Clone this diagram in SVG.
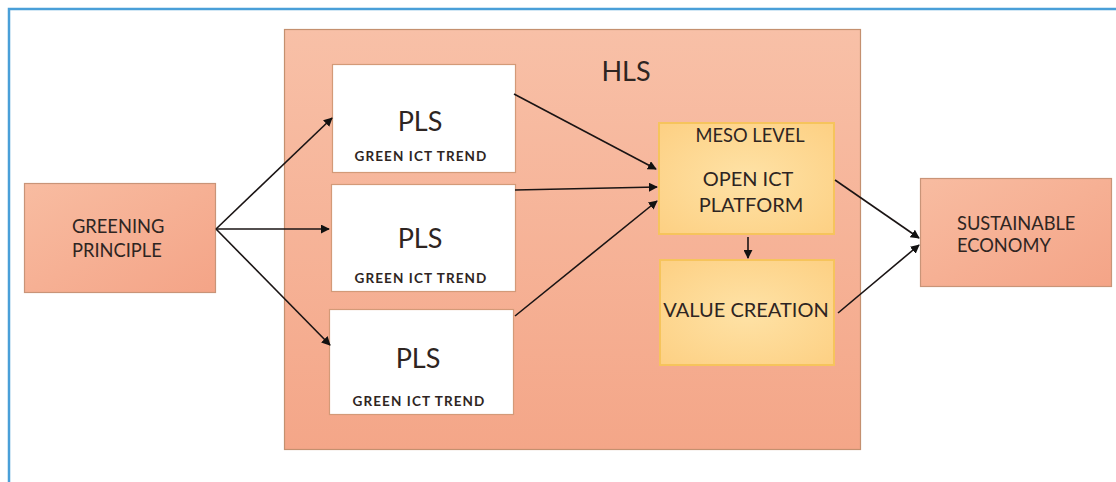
<svg xmlns="http://www.w3.org/2000/svg" width="1116" height="482" viewBox="0 0 1116 482">
  <defs>
    <linearGradient id="salmon" x1="0" y1="0" x2="0" y2="1">
      <stop offset="0" stop-color="#f8c0a7"/>
      <stop offset="1" stop-color="#f4a688"/>
    </linearGradient>
    <linearGradient id="salmonBox" x1="0" y1="0" x2="1" y2="1">
      <stop offset="0" stop-color="#f8bca1"/>
      <stop offset="1" stop-color="#f4a487"/>
    </linearGradient>
    <radialGradient id="gold" cx="0.5" cy="0.5" r="0.7">
      <stop offset="0" stop-color="#fee2a6"/>
      <stop offset="1" stop-color="#fdd083"/>
    </radialGradient>
    <marker id="arrow" viewBox="0 0 10 10" refX="9" refY="5" markerWidth="9" markerHeight="9" markerUnits="userSpaceOnUse" orient="auto">
      <path d="M0,0 L10,5 L0,10 z" fill="#111"/>
    </marker>
  </defs>
  <style>
    .frame { fill: none; stroke: #4a9fd8; stroke-width: 2.5; }
    .outer { fill: url(#salmonBox); stroke: #c99478; stroke-width: 1.2; }
    .hls { fill: url(#salmon); stroke: #c4906f; stroke-width: 1.2; }
    .pls { fill: #ffffff; stroke: #d39a78; stroke-width: 1.2; }
    .meso { fill: url(#gold); stroke: #f6c45c; stroke-width: 2; }
    text { font-family: Lato, "Open Sans", "Liberation Sans", sans-serif; fill: #2e2522; }
    .big { font-size: 27px; }
    .mid { font-size: 18.3px; }
    .lg { font-size: 20px; }
    .small { font-size: 13.5px; font-weight: bold; letter-spacing: 1.1px; }
    .c { text-anchor: middle; }
    .conn line { stroke: #1a1414; stroke-width: 1.6; marker-end: url(#arrow); }
  </style>

  <rect class="frame" x="9" y="9" width="1120" height="490"/>

  <g id="hls">
    <rect class="hls" x="284.5" y="29.5" width="576" height="420"/>
    <text class="big c" x="626" y="81">HLS</text>
  </g>

  <g id="greening">
    <rect class="outer" x="24.5" y="183.5" width="191" height="109"/>
    <text class="mid" x="72" y="233">GREENING</text>
    <text class="mid" x="72" y="257">PRINCIPLE</text>
  </g>

  <g id="pls1">
    <rect class="pls" x="332.5" y="64.5" width="183" height="108"/>
    <text class="big c" x="420" y="131">PLS</text>
    <text class="small c" x="421" y="161">GREEN ICT TREND</text>
  </g>

  <g id="pls2">
    <rect class="pls" x="331.5" y="184.5" width="184" height="107"/>
    <text class="big c" x="420" y="248">PLS</text>
    <text class="small c" x="421" y="283">GREEN ICT TREND</text>
  </g>

  <g id="pls3">
    <rect class="pls" x="329.5" y="309.5" width="184" height="105"/>
    <text class="big c" x="418" y="368">PLS</text>
    <text class="small c" x="419" y="406">GREEN ICT TREND</text>
  </g>

  <g id="meso">
    <rect class="meso" x="659" y="123" width="175" height="111"/>
    <text class="mid c" x="750" y="142">MESO LEVEL</text>
    <text class="lg c" x="748" y="186">OPEN ICT</text>
    <text class="lg c" x="751" y="212">PLATFORM</text>
  </g>

  <g id="value">
    <rect class="meso" x="660" y="260" width="174" height="105"/>
    <text class="lg c" x="746" y="317">VALUE CREATION</text>
  </g>

  <g id="sustainable">
    <rect class="outer" x="920.5" y="178.5" width="191" height="108"/>
    <text class="mid" x="957" y="230">SUSTAINABLE</text>
    <text class="mid" x="957" y="252">ECONOMY</text>
  </g>

  <g id="connectors" class="conn">
    <line x1="216" y1="229" x2="332" y2="118"/>
    <line x1="216" y1="229" x2="329" y2="229"/>
    <line x1="216" y1="229" x2="330" y2="345"/>
    <line x1="514" y1="94" x2="656" y2="169"/>
    <line x1="515" y1="190" x2="657" y2="187"/>
    <line x1="515" y1="316" x2="657" y2="201"/>
    <line x1="748" y1="237" x2="748" y2="258"/>
    <line x1="835" y1="180" x2="919" y2="238"/>
    <line x1="838" y1="313" x2="919" y2="245"/>
  </g>
</svg>
